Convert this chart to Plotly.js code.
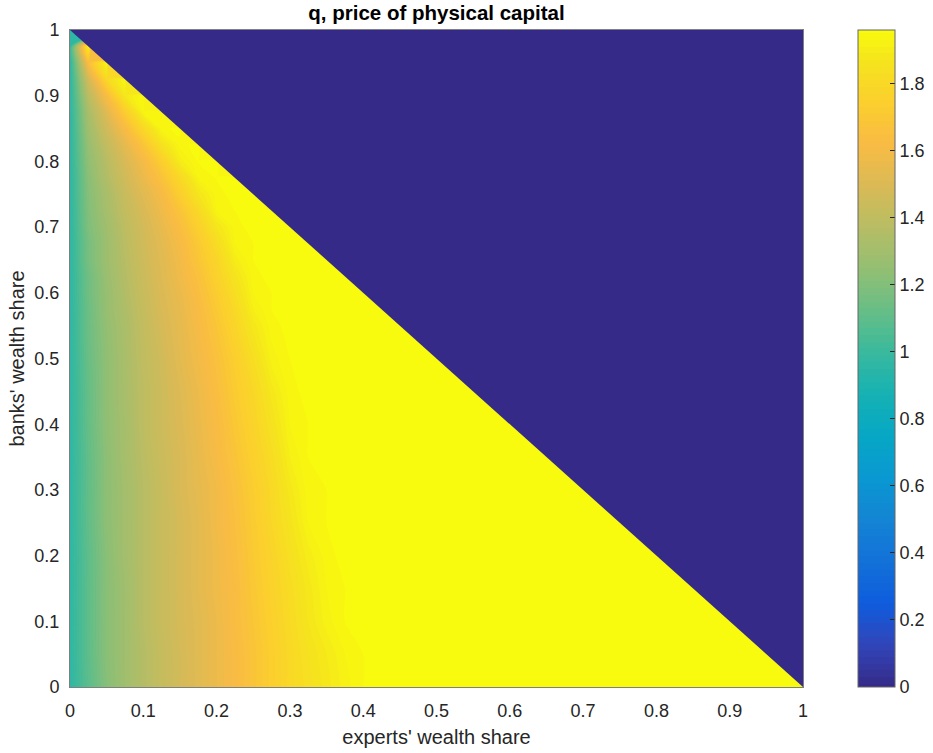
<!DOCTYPE html>
<html>
<head>
<meta charset="utf-8">
<script src="https://cdn.plot.ly/plotly-3.0.1.min.js"></script>
<style>html,body{margin:0;padding:0;background:#fff;}#chart{width:933px;height:753px;}</style>
</head>
<body>
<div id="chart"></div>
<script>
// experts' wealth share (x grid)
const expertsShare = [0,0.025,0.05,0.075,0.1,0.125,0.15,0.175,0.2,0.225,0.25,0.275,0.3,0.325,0.35,0.375,0.4,0.425,0.45,0.5,0.55,0.6,0.65,0.7,0.75,0.8,0.85,0.9,0.95,1];
// banks' wealth share (y grid)
const banksShare = [0,0.05,0.1,0.15,0.2,0.25,0.3,0.35,0.4,0.45,0.5,0.55,0.575,0.6,0.625,0.65,0.675,0.7,0.725,0.75,0.775,0.8,0.825,0.85,0.875,0.9,0.925,0.95,0.975,1];
// q, price of physical capital: one row per banks' share, one column per experts' share
const qPrice = [
  [0.96,1.09,1.21,1.29,1.36, 1.42,1.47,1.52,1.57,1.62, 1.68,1.74,1.80,1.84,1.88, 1.92,1.95,1.96,1.96,1.96, 1.96,1.96,1.96,1.96,1.96, 1.96,1.96,1.96,1.96,1.96],
  [0.96,1.10,1.22,1.29,1.36, 1.42,1.47,1.52,1.57,1.62, 1.68,1.74,1.80,1.85,1.89, 1.93,1.95,1.96,1.96,1.96, 1.96,1.96,1.96,1.96,1.96, 1.96,1.96,1.96,1.96,0],
  [0.96,1.10,1.22,1.29,1.37, 1.43,1.48,1.52,1.57,1.63, 1.69,1.75,1.81,1.87,1.92, 1.95,1.96,1.96,1.96,1.96, 1.96,1.96,1.96,1.96,1.96, 1.96,1.96,1.96,0,0],
  [0.96,1.10,1.22,1.29,1.37, 1.43,1.48,1.53,1.58,1.63, 1.70,1.76,1.82,1.88,1.93, 1.95,1.96,1.96,1.96,1.96, 1.96,1.96,1.96,1.96,1.96, 1.96,1.96,0,0,0],
  [0.96,1.10,1.22,1.30,1.37, 1.43,1.48,1.53,1.58,1.64, 1.71,1.77,1.84,1.90,1.94, 1.96,1.96,1.96,1.96,1.96, 1.96,1.96,1.96,1.96,1.96, 1.96,0,0,0,0],
  [0.96,1.11,1.23,1.30,1.37, 1.43,1.48,1.53,1.59,1.65, 1.72,1.79,1.86,1.93,1.95, 1.96,1.96,1.96,1.96,1.96, 1.96,1.96,1.96,1.96,1.96, 0,0,0,0,0],
  [0.96,1.11,1.23,1.30,1.37, 1.43,1.49,1.54,1.59,1.66, 1.73,1.80,1.88,1.94,1.95, 1.96,1.96,1.96,1.96,1.96, 1.96,1.96,1.96,1.96,0, 0,0,0,0,0],
  [0.96,1.11,1.23,1.31,1.38, 1.44,1.49,1.55,1.61,1.68, 1.75,1.82,1.91,1.95,1.96, 1.96,1.96,1.96,1.96,1.96, 1.96,1.96,1.96,0,0, 0,0,0,0,0],
  [0.96,1.12,1.24,1.31,1.39, 1.45,1.50,1.56,1.62,1.70, 1.77,1.85,1.93,1.95,1.96, 1.96,1.96,1.96,1.96,1.96, 1.96,1.96,0,0,0, 0,0,0,0,0],
  [0.96,1.12,1.24,1.32,1.39, 1.45,1.51,1.57,1.64,1.72, 1.79,1.88,1.94,1.96,1.96, 1.96,1.96,1.96,1.96,1.96, 1.96,0,0,0,0, 0,0,0,0,0],
  [0.96,1.13,1.24,1.32,1.40, 1.46,1.53,1.59,1.66,1.74, 1.83,1.92,1.95,1.96,1.96, 1.96,1.96,1.96,1.96,1.96, 0,0,0,0,0, 0,0,0,0,0],
  [0.96,1.14,1.25,1.33,1.41, 1.48,1.54,1.61,1.69,1.78, 1.88,1.94,1.96,1.96,1.96, 1.96,1.96,1.96,1.96,0, 0,0,0,0,0, 0,0,0,0,0],
  [0.96,1.14,1.26,1.34,1.42, 1.49,1.55,1.62,1.71,1.80, 1.91,1.95,1.96,1.96,1.96, 1.96,1.96,1.96,0,0, 0,0,0,0,0, 0,0,0,0,0],
  [0.96,1.15,1.26,1.35,1.43, 1.50,1.56,1.64,1.73,1.83, 1.93,1.95,1.96,1.96,1.96, 1.96,1.96,0,0,0, 0,0,0,0,0, 0,0,0,0,0],
  [0.96,1.15,1.27,1.36,1.44, 1.51,1.58,1.66,1.76,1.86, 1.94,1.96,1.96,1.96,1.96, 1.96,0,0,0,0, 0,0,0,0,0, 0,0,0,0,0],
  [0.96,1.17,1.28,1.37,1.45, 1.52,1.59,1.69,1.78,1.90, 1.95,1.96,1.96,1.96,1.96, 0,0,0,0,0, 0,0,0,0,0, 0,0,0,0,0],
  [0.96,1.17,1.28,1.38,1.46, 1.53,1.61,1.71,1.82,1.93, 1.95,1.96,1.96,1.96,0, 0,0,0,0,0, 0,0,0,0,0, 0,0,0,0,0],
  [0.96,1.19,1.29,1.39,1.47, 1.55,1.64,1.75,1.87,1.94, 1.96,1.96,1.96,0,0, 0,0,0,0,0, 0,0,0,0,0, 0,0,0,0,0],
  [0.96,1.20,1.31,1.41,1.49, 1.58,1.68,1.80,1.93,1.95, 1.96,1.96,0,0,0, 0,0,0,0,0, 0,0,0,0,0, 0,0,0,0,0],
  [0.96,1.21,1.32,1.43,1.52, 1.61,1.74,1.87,1.94,1.96, 1.96,0,0,0,0, 0,0,0,0,0, 0,0,0,0,0, 0,0,0,0,0],
  [0.96,1.22,1.35,1.46,1.56, 1.67,1.80,1.93,1.95,1.96, 0,0,0,0,0, 0,0,0,0,0, 0,0,0,0,0, 0,0,0,0,0],
  [0.96,1.24,1.37,1.49,1.60, 1.74,1.90,1.95,1.96,0, 0,0,0,0,0, 0,0,0,0,0, 0,0,0,0,0, 0,0,0,0,0],
  [0.96,1.26,1.41,1.54,1.68, 1.85,1.94,1.96,0,0, 0,0,0,0,0, 0,0,0,0,0, 0,0,0,0,0, 0,0,0,0,0],
  [0.96,1.29,1.46,1.62,1.80, 1.94,1.96,0,0,0, 0,0,0,0,0, 0,0,0,0,0, 0,0,0,0,0, 0,0,0,0,0],
  [0.96,1.32,1.52,1.73,1.93, 1.95,0,0,0,0, 0,0,0,0,0, 0,0,0,0,0, 0,0,0,0,0, 0,0,0,0,0],
  [0.96,1.38,1.63,1.88,1.95, 0,0,0,0,0, 0,0,0,0,0, 0,0,0,0,0, 0,0,0,0,0, 0,0,0,0,0],
  [0.96,1.47,1.80,1.94,0, 0,0,0,0,0, 0,0,0,0,0, 0,0,0,0,0, 0,0,0,0,0, 0,0,0,0,0],
  [0.96,1.64,1.94,0,0, 0,0,0,0,0, 0,0,0,0,0, 0,0,0,0,0, 0,0,0,0,0, 0,0,0,0,0],
  [0.96,1.93,0,0,0, 0,0,0,0,0, 0,0,0,0,0, 0,0,0,0,0, 0,0,0,0,0, 0,0,0,0,0],
  [0.96,0,0,0,0, 0,0,0,0,0, 0,0,0,0,0, 0,0,0,0,0, 0,0,0,0,0, 0,0,0,0,0]
];
const xTickVals = [0, 0.1, 0.2, 0.3, 0.4, 0.5, 0.6, 0.7, 0.8, 0.9, 1];
const xTickText = ["0", "0.1", "0.2", "0.3", "0.4", "0.5", "0.6", "0.7", "0.8", "0.9", "1"];
const yTickVals = [0, 0.1, 0.2, 0.3, 0.4, 0.5, 0.6, 0.7, 0.8, 0.9, 1];
const yTickText = ["0", "0.1", "0.2", "0.3", "0.4", "0.5", "0.6", "0.7", "0.8", "0.9", "1"];
const cbTickVals = [0, 0.2, 0.4, 0.6, 0.8, 1, 1.2, 1.4, 1.6, 1.8];
const cbTickText = ["0", "0.2", "0.4", "0.6", "0.8", "1", "1.2", "1.4", "1.6", "1.8"];
const qMin = 0, qMax = 1.96;

// parula colormap (style)
const parula = [
  [0.0000, '#352a87'], [0.0635, '#3145b9'], [0.1270, '#0f5cdd'], [0.1905, '#1271d8'],
  [0.2540, '#1484d4'], [0.3175, '#0998d1'], [0.3810, '#06a7c6'], [0.4444, '#15b1b4'],
  [0.5079, '#38b99e'], [0.5714, '#65be86'], [0.6349, '#92bf73'], [0.6984, '#b7bd64'],
  [0.7619, '#d9ba56'], [0.8254, '#f8bb44'], [0.8889, '#fcce2e'], [0.9524, '#f5e41d'],
  [1.0000, '#f9fb0e']
];

const font = "'Liberation Sans', Arial, Helvetica, sans-serif";
const txt = '#262626';

const contourTrace = {
  type: 'contour',
  x: expertsShare,
  y: banksShare,
  z: qPrice,
  zmin: qMin,
  zmax: qMax,
  zauto: false,
  autocontour: false,
  contours: {start: 0.01, end: 1.95, size: 0.02, coloring: 'fill', showlines: false},
  line: {width: 0, smoothing: 0.8},
  colorscale: parula,
  hoverinfo: 'skip',
  colorbar: {
    x: 1.075, xanchor: 'left', xref: 'paper',
    y: 0.5, yanchor: 'middle', len: 1, lenmode: 'fraction',
    thickness: 37, thicknessmode: 'pixels',
    xpad: 0, ypad: 0,
    outlinewidth: 1, outlinecolor: '#666666',
    tickmode: 'array', tickvals: cbTickVals, ticktext: cbTickText,
    ticks: 'inside', ticklen: 5, tickwidth: 1, tickcolor: txt,
    tickfont: {family: font, size: 18, color: txt}
  }
};

// region where q = 0 (x + y > 1), bounded by the grid's own edges
const nx = expertsShare.length - 1, ny = banksShare.length - 1;
const zeroRegion = {
  type: 'scatter', mode: 'lines',
  x: [expertsShare[0], expertsShare[nx], expertsShare[nx], expertsShare[0]],
  y: [banksShare[ny], banksShare[0], banksShare[ny], banksShare[ny]],
  fill: 'toself', fillcolor: parula[0][1],
  line: {width: 0, color: parula[0][1]},
  hoverinfo: 'skip', showlegend: false
};

const axisCommon = {
  range: [0, 1], showgrid: false, zeroline: false,
  showline: true, linecolor: '#7f7f7f', linewidth: 1, mirror: true,
  ticks: 'outside', ticklen: 7, tickcolor: 'rgba(0,0,0,0)',
  tickfont: {family: font, size: 18, color: txt},
  tickmode: 'array'
};

const layout = {
  width: 933, height: 753,
  margin: {l: 70, r: 130, t: 30, b: 66, autoexpand: false},
  paper_bgcolor: '#ffffff', plot_bgcolor: '#ffffff',
  showlegend: false,
  title: {
    text: '<b>q, price of physical capital</b>',
    font: {family: font, size: 20.5, color: '#000000'},
    x: 0.5, xref: 'paper', xanchor: 'center',
    y: 1 - 13 / 753, yref: 'container', yanchor: 'middle'
  },
  xaxis: Object.assign({}, axisCommon, {
    tickvals: xTickVals, ticktext: xTickText,
    title: {text: "experts' wealth share", font: {family: font, size: 20, color: txt}, standoff: 10}
  }),
  yaxis: Object.assign({}, axisCommon, {
    ticklen: 6,
    tickvals: yTickVals, ticktext: yTickText,
    title: {text: "banks' wealth share", font: {family: font, size: 20, color: txt}, standoff: 4}
  })
};

Plotly.newPlot('chart', [contourTrace, zeroRegion], layout, {displayModeBar: false, staticPlot: true});
</script>
</body>
</html>
